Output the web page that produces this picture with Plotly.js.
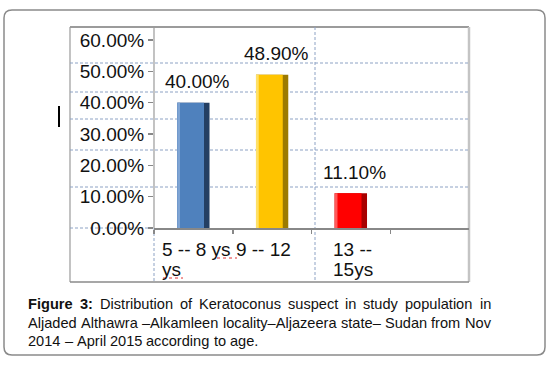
<!DOCTYPE html>
<html>
<head>
<meta charset="utf-8">
<script src="https://cdn.plot.ly/plotly-3.0.1.min.js"></script>
<style>
  html, body { margin: 0; padding: 0; background: #ffffff; }
  #chart { width: 553px; height: 365px; }
</style>
</head>
<body>
<div id="chart"></div>
<script>
// ---- data ----
const categories = ['5 -- 8 ys', '9 -- 12 ys', '13 -- 15ys'];
const percentValues = [0.40, 0.489, 0.111];
const valueLabels = ['40.00%', '48.90%', '11.10%'];
const yTickValues = [0, 0.1, 0.2, 0.3, 0.4, 0.5, 0.6];
const yTickLabels = ['0.00%', '10.00%', '20.00%', '30.00%', '40.00%', '50.00%', '60.00%'];
const cellOneLines = ['5 -- 8 ys 9 -- 12', 'ys'];
const cellTwoLines = ['13 --', '15ys'];
const captionBold = 'Figure 3:';
const captionLines = [
  'Distribution of Keratoconus suspect in study population in',
  'Aljaded Althawra \u2013Alkamleen locality\u2013Aljazeera state\u2013 Sudan from Nov',
  '2014 \u2013 April 2015 according to age.'
];

// ---- styles ----
const faceColors = ['#4f81bd', '#ffc400', '#ff0000'];
const edgeColors = ['#243f63', '#9c7a00', '#a80000'];
const lightColors = ['#7ea4d4', '#ffe066', '#ff5a5a'];

// pixel -> paper helpers (plot area: x 154..469, y 40..228)
const L = 154, R = 469, T = 40, B = 228;
const X = px => (px - L) / (R - L);
const Y = py => (B - py) / (B - T);

const chartFont = 'Arial, "Liberation Sans", sans-serif';
const fs = 19;

const traces = [
  { type: 'bar', x: categories, y: percentValues, width: 0.41, offset: -0.205,
    marker: { color: edgeColors, line: { width: 0 } }, hoverinfo: 'skip', showlegend: false },
  { type: 'bar', x: categories, y: percentValues, width: 0.34, offset: -0.205,
    marker: { color: faceColors, line: { width: 0 } }, hoverinfo: 'skip', showlegend: false },
  { type: 'bar', x: categories, y: percentValues, width: 0.035, offset: -0.205,
    marker: { color: lightColors, line: { width: 0 } }, hoverinfo: 'skip', showlegend: false }
];

const gridColor = '#8da2c4';
const shapes = [];
function line(x0, y0, x1, y1, color, width, dash) {
  shapes.push({ type: 'line', xref: 'paper', yref: 'paper', x0: X(x0), y0: Y(y0), x1: X(x1), y1: Y(y1),
    line: { color: color, width: width, dash: dash || 'solid' }, layer: 'below' });
}
// outer rounded box
(function () {
  const x0 = 4, y0 = 10, x1 = 545, y1 = 355, r = 8;
  const p = `M ${X(x0 + r)},${Y(y0)} L ${X(x1 - r)},${Y(y0)} Q ${X(x1)},${Y(y0)} ${X(x1)},${Y(y0 + r)} ` +
    `L ${X(x1)},${Y(y1 - r)} Q ${X(x1)},${Y(y1)} ${X(x1 - r)},${Y(y1)} L ${X(x0 + r)},${Y(y1)} ` +
    `Q ${X(x0)},${Y(y1)} ${X(x0)},${Y(y1 - r)} L ${X(x0)},${Y(y0 + r)} Q ${X(x0)},${Y(y0)} ${X(x0 + r)},${Y(y0)} Z`;
  shapes.push({ type: 'path', xref: 'paper', yref: 'paper', path: p, line: { color: '#8a8a8a', width: 1.5 }, layer: 'below' });
})();
// table frame
line(70, 27, 469, 27, '#7a7a7a', 1.5);
line(70, 27, 70, 282, '#9a9a9a', 1.2);
line(469, 27, 469, 282, '#c4c4c4', 2.5);
line(70, 282, 469, 282, '#8a8a8a', 1.5);
// dashed table lines
const dashPat = '3px,2px';
[63, 92, 119, 150, 187].forEach(py => line(70, py, 469, py, gridColor, 1, dashPat));
line(70, 228, 154, 228, gridColor, 1, dashPat);
line(315, 27, 315, 282, gridColor, 1, dashPat);
line(154, 228, 154, 282, gridColor, 1, dashPat);
// y axis line spanning table height
line(154, 27, 154, 228, '#9a9a9a', 1.2);
// text cursor artifact
line(59, 106, 59, 127, '#000000', 2);
// spell-check squiggles
line(217, 258, 237, 258, '#e03030', 1, 'dot');
line(163, 278, 183, 278, '#e03030', 1, 'dot');

const annotations = [];
categories.forEach((c, i) => {
  annotations.push({ x: c, y: percentValues[i], xref: 'x', yref: 'y', yshift: 21, xshift: 4,
    text: valueLabels[i], showarrow: false, font: { family: chartFont, size: fs, color: '#111' },
    xanchor: 'center', yanchor: 'middle' });
});
function textAt(px, py, txt, size, anchor, weight) {
  annotations.push({ xref: 'paper', yref: 'paper', x: X(px), y: Y(py), text: txt, showarrow: false,
    xanchor: anchor || 'left', yanchor: 'middle', borderpad: 0, borderwidth: 0,
    font: { family: chartFont, size: size, color: '#111', weight: weight || 'normal' } });
}
textAt(162, 249, cellOneLines[0], fs);
textAt(162, 269, cellOneLines[1], fs);
textAt(333, 249, cellTwoLines[0], fs);
textAt(333, 269, cellTwoLines[1], fs);

// caption with justified first two lines
const capSize = 14.6;
const capLeft = 28, capRight = 491;
const capY = [304, 323, 341];
const cv = document.createElement('canvas').getContext('2d');
function measure(t, bold) {
  cv.font = (bold ? 'bold ' : '') + capSize + 'px Arial, "Liberation Sans", sans-serif';
  return cv.measureText(t).width;
}
captionLines.forEach((ln, li) => {
  const words = [];
  if (li === 0) captionBold.split(' ').forEach(w => words.push({ t: w, b: true }));
  ln.split(' ').forEach(w => words.push({ t: w, b: false }));
  const widths = words.map(w => measure(w.t, w.b));
  const total = widths.reduce((a, b) => a + b, 0);
  const justify = li < captionLines.length - 1;
  const gap = justify ? (capRight - capLeft - total) / (words.length - 1) : measure(' ', false);
  let x = capLeft;
  words.forEach((w, k) => {
    textAt(x, capY[li], w.b ? '<b>' + w.t + '</b>' : w.t, capSize, 'left');
    x += widths[k] + gap;
  });
});

const layout = {
  width: 553, height: 365,
  margin: { l: L, r: 553 - R, t: T, b: 365 - B, pad: 0 },
  paper_bgcolor: '#ffffff', plot_bgcolor: 'rgba(0,0,0,0)',
  barmode: 'overlay',
  showlegend: false,
  font: { family: chartFont, color: '#111' },
  xaxis: { type: 'category', categoryarray: categories, categoryorder: 'array', range: [-0.5, 3.5],
    showticklabels: false, ticks: 'outside', tickson: 'boundaries', ticklen: 4, tickwidth: 1.5, tickcolor: '#888',
    showline: true, linecolor: '#888', linewidth: 1.5, showgrid: false, zeroline: false, fixedrange: true },
  yaxis: { range: [0, 0.6], tickvals: yTickValues, ticktext: yTickLabels, ticks: 'outside', ticklen: 5,
    tickwidth: 1.5, tickcolor: '#888', tickfont: { family: chartFont, size: fs, color: '#111' },
    showline: false, showgrid: false, zeroline: false, fixedrange: true, automargin: false },
  shapes: shapes,
  annotations: annotations
};

Plotly.newPlot('chart', traces, layout, { displayModeBar: false, staticPlot: true });
</script>
</body>
</html>
